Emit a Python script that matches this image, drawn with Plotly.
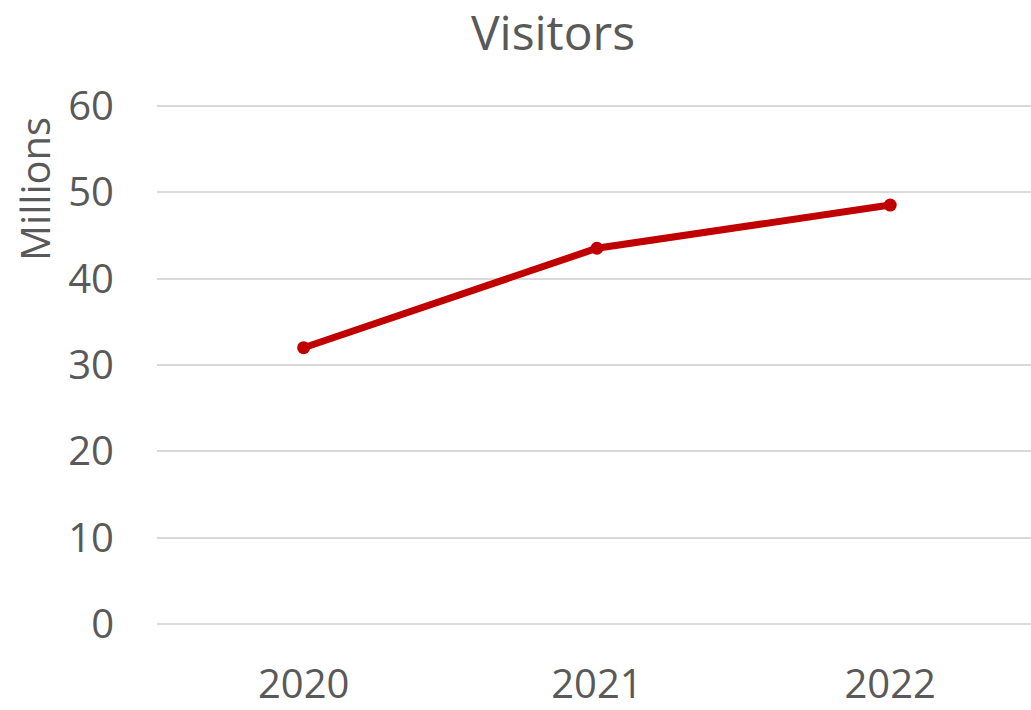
import plotly.graph_objects as go

years = ["2020", "2021", "2022"]
visitors = [32.0, 43.5, 48.5]
y_ticks = [0, 10, 20, 30, 40, 50, 60]

FONT = "Open Sans"
GREY = "#595959"

W, H = 1031, 710
PL, PR, PT, PB = 157, 0, 103, 64

fig = go.Figure()
fig.add_trace(go.Scatter(
    x=years, y=visitors, mode="lines+markers",
    line=dict(color="#c00000", width=7),
    marker=dict(color="#c00000", size=13),
    showlegend=False,
))

plot_w = W - PL - PR
plot_h = H - PT - PB

fig.update_layout(
    width=W, height=H,
    margin=dict(l=PL, r=PR, t=PT, b=PB, pad=0),
    paper_bgcolor="white", plot_bgcolor="white",
    font=dict(family=FONT, color=GREY, size=40),
    title=dict(text="Visitors", xref="container", x=553 / W, xanchor="center",
               yref="container", y=1 - 33 / H, yanchor="middle",
               font=dict(size=48, color=GREY, family=FONT)),
    xaxis=dict(type="category", range=[-0.5, 2.48], showgrid=False,
               showline=False, zeroline=False, ticks="",
               ticklabelstandoff=30, tickfont=dict(size=40, color=GREY)),
    yaxis=dict(range=[-0.3, 60.3], tickvals=y_ticks, showgrid=True,
               gridcolor="#d9d9d9", gridwidth=2, zeroline=False,
               showline=False, ticks="", ticklabelstandoff=42,
               tickfont=dict(size=40, color=GREY)),
    annotations=[dict(text="Millions", textangle=-90, xref="paper", yref="paper",
                      x=(35 - PL) / plot_w, y=(H - PB - 192) / plot_h,
                      xanchor="center", yanchor="middle", showarrow=False,
                      font=dict(size=40, color=GREY, family=FONT))],
)

post = (
    "document.documentElement.style.margin='0';"
    "document.documentElement.style.overflow='hidden';"
    "document.body.style.margin='0';"
    "document.body.style.overflow='hidden';"
    "var gd=document.getElementById('{plot_id}');"
    "gd.style.position='fixed';gd.style.top='0px';gd.style.left='0px';"
)

fig.write_html("out.html", post_script=post, config={"displayModeBar": False})
